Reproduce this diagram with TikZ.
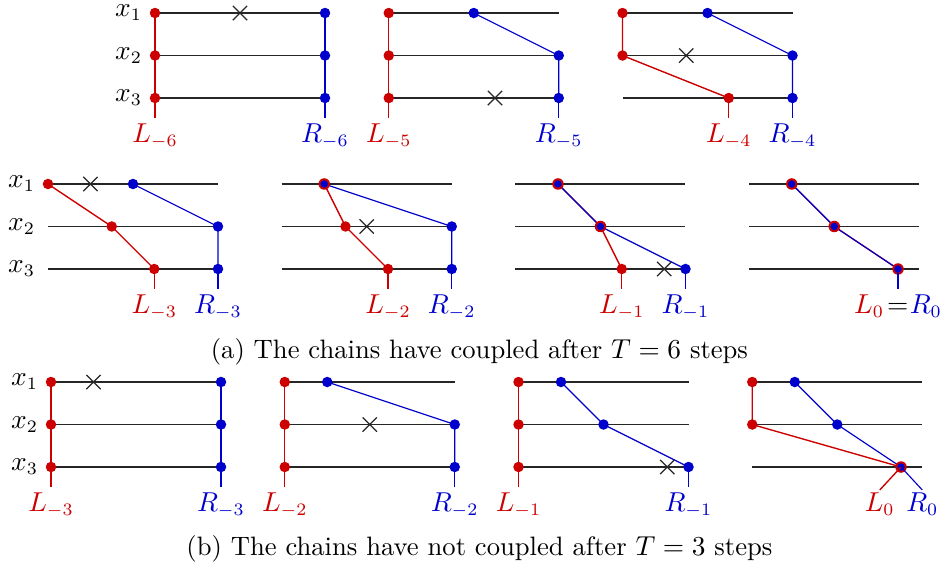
\documentclass[tikz,border=0pt]{standalone}
\usetikzlibrary{shapes.misc,calc}
\definecolor{lcol}{RGB}{204,0,0}
\definecolor{rcol}{RGB}{0,0,204}
\tikzset{
  every node/.append style={font=\fontsize{10.65}{12.8}\selectfont},
  hline/.style={black!85, line width=0.45pt},
  lpath/.style={lcol, line width=0.55pt},
  rpath/.style={rcol, line width=0.45pt},
  xmk/.style={draw=black!85, cross out, line width=0.5pt, minimum size=5.2pt, inner sep=0pt},
  rowlab/.style={anchor=east, inner xsep=5pt, inner ysep=0.5pt},
  chainlab/.style={anchor=north, inner sep=2pt},
}
\newcommand\chaindot[3]{%
  \ifdim #2pt=#3pt\relax
    \fill[lcol] (#1) circle[radius=2.3pt];
    \fill[rcol] (#1) circle[radius=1.5pt];
  \else
    \fill[rcol] (#1) circle[radius=2.1pt];
  \fi}
\newcommand\chainpanel[9]{%
  \begin{scope}[shift={(#2,#3)}]
    \foreach \r in {0,1,2} {\coordinate (#1s\r) at (0,\r); \coordinate (#1e\r) at (4,\r);}
    \coordinate (#1L0) at (#4,0); \coordinate (#1L1) at (#5,1); \coordinate (#1L2) at (#6,2);
    \coordinate (#1R0) at (#7,0); \coordinate (#1R1) at (#8,1); \coordinate (#1R2) at (#9,2);
    \coordinate (#1Lt) at (#6,2.48); \coordinate (#1Rt) at (#9,2.48);
  \end{scope}
  \foreach \r in {0,1,2} {\draw[hline] (#1s\r) -- (#1e\r);}
  \draw[lpath] (#1L0) -- (#1L1) -- (#1L2);
  \draw[rpath] (#1R0) -- (#1R1) -- (#1R2);
  \fill[lcol] (#1L0) circle[radius=2.1pt];
  \fill[lcol] (#1L1) circle[radius=2.1pt];
  \fill[lcol] (#1L2) circle[radius=2.1pt];
  \chaindot{#1R0}{#4}{#7}%
  \chaindot{#1R1}{#5}{#8}%
  \chaindot{#1R2}{#6}{#9}%
}
\newcommand\chaintails[1]{%
  \draw[lpath] (#1L2) -- (#1Lt);
  \draw[rpath] (#1R2) -- (#1Rt);}
\begin{document}
\begin{tikzpicture}[x=17pt,y=-17pt]
\useasboundingbox (0,0) rectangle (22.282,13.388);

% ---------- (a) first row ----------
\chainpanel{pa}{3.647}{0.306}{0}{0}{0}{4}{4}{4}
\chaintails{pa}
\chainpanel{pb}{9.147}{0.306}{0}{0}{0}{2}{4}{4}
\chaintails{pb}
\chainpanel{pc}{14.647}{0.306}{0}{0}{2.5}{2}{4}{4}
\chaintails{pc}

% ---------- (a) second row ----------
\chainpanel{pd}{1.129}{4.329}{0}{1.5}{2.5}{2}{4}{4}
\chaintails{pd}
\chainpanel{pe}{6.629}{4.329}{1}{1.5}{2.5}{1}{4}{4}
\chaintails{pe}
\chainpanel{pf}{12.129}{4.329}{1}{2}{2.5}{1}{2}{4}
\chaintails{pf}
\chainpanel{pg}{17.629}{4.329}{1}{2}{3.5}{1}{2}{3.5}
\chaintails{pg}

% ---------- (b) ----------
\chainpanel{ph}{1.2}{8.988}{0}{0}{0}{4}{4}{4}
\chaintails{ph}
\chainpanel{pi}{6.7}{8.988}{0}{0}{0}{1}{4}{4}
\chaintails{pi}
\chainpanel{pj}{12.2}{8.988}{0}{0}{0}{1}{2}{4}
\chaintails{pj}
\chainpanel{pk}{17.7}{8.988}{0}{0}{3.5}{1}{2}{3.5}
\begin{scope}[shift={(17.7,8.988)}]
  \coordinate (pkLt) at (3.0,2.54);
  \coordinate (pkRt) at (4.0,2.54);
\end{scope}
\draw[lpath] (pkL2) -- (pkLt);
\draw[rpath] (pkR2) -- (pkRt);

% crosses
\begin{scope}[shift={(3.647,0.306)}]\node[xmk] (paX) at (2,0) {};\end{scope}
\begin{scope}[shift={(9.147,0.306)}]\node[xmk] (pbX) at (2.5,2) {};\end{scope}
\begin{scope}[shift={(14.647,0.306)}]\node[xmk] (pcX) at (1.5,1) {};\end{scope}
\begin{scope}[shift={(1.129,4.329)}]\node[xmk] (pdX) at (1,0) {};\end{scope}
\begin{scope}[shift={(6.629,4.329)}]\node[xmk] (peX) at (2,1) {};\end{scope}
\begin{scope}[shift={(12.129,4.329)}]\node[xmk] (pfX) at (3.5,2) {};\end{scope}
\begin{scope}[shift={(1.2,8.988)}]\node[xmk] (phX) at (1,0) {};\end{scope}
\begin{scope}[shift={(6.7,8.988)}]\node[xmk] (piX) at (2,1) {};\end{scope}
\begin{scope}[shift={(12.2,8.988)}]\node[xmk] (pjX) at (3.5,2) {};\end{scope}

% row labels
\node[rowlab] (ax1) at (pas0) {$x_1$};
\node[rowlab] (ax2) at (pas1) {$x_2$};
\node[rowlab] (ax3) at (pas2) {$x_3$};
\node[rowlab] (bx1) at (pds0) {$x_1$};
\node[rowlab] (bx2) at (pds1) {$x_2$};
\node[rowlab] (bx3) at (pds2) {$x_3$};
\node[rowlab] (cx1) at (phs0) {$x_1$};
\node[rowlab] (cx2) at (phs1) {$x_2$};
\node[rowlab] (cx3) at (phs2) {$x_3$};

% chain labels
\node[chainlab, lcol] (paLl) at (paLt) {$L_{-6}$};
\node[chainlab, rcol] (paRl) at (paRt) {$R_{-6}$};
\node[chainlab, lcol] (pbLl) at (pbLt) {$L_{-5}$};
\node[chainlab, rcol] (pbRl) at (pbRt) {$R_{-5}$};
\node[chainlab, lcol] (pcLl) at (pcLt) {$L_{-4}$};
\node[chainlab, rcol] (pcRl) at (pcRt) {$R_{-4}$};
\node[chainlab, lcol] (pdLl) at (pdLt) {$L_{-3}$};
\node[chainlab, rcol] (pdRl) at (pdRt) {$R_{-3}$};
\node[chainlab, lcol] (peLl) at (peLt) {$L_{-2}$};
\node[chainlab, rcol] (peRl) at (peRt) {$R_{-2}$};
\node[chainlab, lcol] (pfLl) at (pfLt) {$L_{-1}$};
\node[chainlab, rcol] (pfRl) at (pfRt) {$R_{-1}$};
\node[chainlab, inner xsep=0pt] (pgl) at (pgLt) {$\textcolor{lcol}{L_0}\mskip2mu{=}\mskip1mu\textcolor{rcol}{R_0}$};
\node[chainlab, lcol] (phLl) at (phLt) {$L_{-3}$};
\node[chainlab, rcol] (phRl) at (phRt) {$R_{-3}$};
\node[chainlab, lcol] (piLl) at (piLt) {$L_{-2}$};
\node[chainlab, rcol] (piRl) at (piRt) {$R_{-2}$};
\node[chainlab, lcol] (pjLl) at (pjLt) {$L_{-1}$};
\node[chainlab, rcol] (pjRl) at (pjRt) {$R_{-1}$};
\node[chainlab, lcol, inner sep=0.8pt] (pkLl) at (pkLt) {$L_0$};
\node[chainlab, rcol, inner sep=0.8pt] (pkRl) at (pkRt) {$R_0$};

% captions
\node (capa) at (11.28,8.28) {(a) The chains have coupled after $T=6$ steps};
\node (capb) at (11.28,12.92) {(b) The chains have not coupled after $T=3$ steps};
\end{tikzpicture}
\end{document}
